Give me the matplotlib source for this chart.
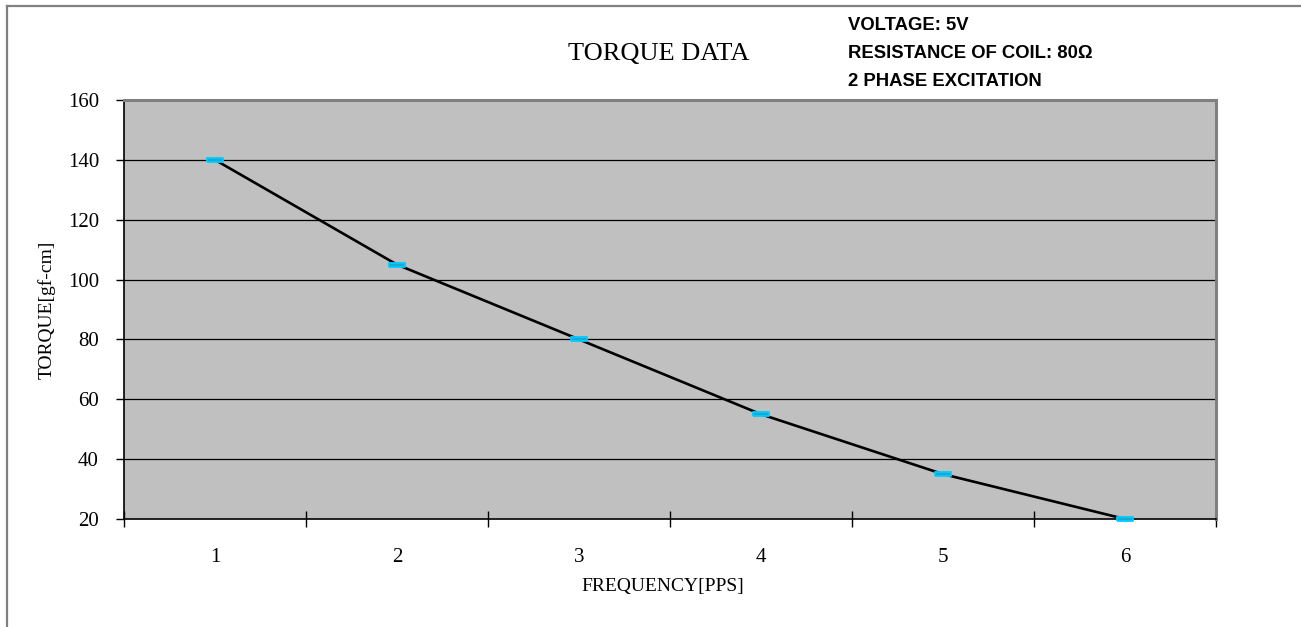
import matplotlib
matplotlib.use("Agg")
import matplotlib.pyplot as plt
from matplotlib.lines import Line2D
import numpy as np

categories = ["1", "2", "3", "4", "5", "6"]
torque = [140, 105, 80, 55, 35, 20]
y_ticks = [20, 40, 60, 80, 100, 120, 140, 160]

title = "TORQUE DATA"
notes = ["VOLTAGE: 5V", "RESISTANCE OF COIL: 80\u03a9", "2 PHASE EXCITATION"]
xlabel = "FREQUENCY[PPS]"
ylabel = "TORQUE[gf-cm]"

W, H = 1301, 627
fig = plt.figure(figsize=(W / 100, H / 100), dpi=100)
fig.patch.set_facecolor("white")

serif = ["Liberation Serif", "DejaVu Serif"]
sans = ["Liberation Sans", "DejaVu Sans"]

# figure frame (left and top edges visible)
fig.add_artist(Line2D([7 / W, 7 / W], [0, 1 - 6 / H], transform=fig.transFigure,
                      color="#808080", lw=1.6))
fig.add_artist(Line2D([7 / W, 1], [1 - 6 / H, 1 - 6 / H], transform=fig.transFigure,
                      color="#808080", lw=1.6))

left, right, bottom, top = 124 / W, 1216 / W, (H - 519) / H, (H - 100) / H
ax = fig.add_axes([left, bottom, right - left, top - bottom])
ax.set_facecolor("#C0C0C0")

x = np.arange(1, len(categories) + 1)
ax.set_xlim(0.5, len(categories) + 0.5)
ax.set_ylim(20, 160)

for yv in y_ticks[1:-1]:
    ax.axhline(yv, color="black", lw=0.9, zorder=1)

rect = [(-3.75, -1.15), (3.75, -1.15), (3.75, 1.15), (-3.75, 1.15), (-3.75, -1.15)]
ax.plot(x, torque, color="black", lw=1.9, zorder=3)
ax.plot(x, torque, linestyle="none", marker=rect, markersize=11.5,
        markerfacecolor="#1AA8D8", markeredgecolor="#00CCFF", markeredgewidth=1.3,
        zorder=4, clip_on=False)

# spines
for s in ["left", "bottom"]:
    ax.spines[s].set_color("black")
    ax.spines[s].set_linewidth(1.2)
for s in ["top", "right"]:
    ax.spines[s].set_color("#808080")
    ax.spines[s].set_linewidth(2.2)

ax.set_yticks(y_ticks)
ax.set_yticklabels([str(v) for v in y_ticks], fontfamily=serif, fontsize=15)
ax.tick_params(axis="y", direction="out", length=6, width=1, color="black", pad=12)

ax.set_xticks(np.arange(0.5, len(categories) + 1, 1.0))
ax.set_xticklabels([])
ax.tick_params(axis="x", which="major", direction="inout", length=12, width=1, color="black")
ax.set_xticks(x, minor=True)
ax.set_xticklabels(categories, minor=True, fontfamily=serif, fontsize=15)
ax.tick_params(axis="x", which="minor", length=0, pad=21)

ax.set_xlabel(xlabel, fontfamily=serif, fontsize=14, labelpad=14)
ax.set_ylabel(ylabel, fontfamily=serif, fontsize=14, labelpad=14)
ax.xaxis.set_label_coords((663 / W - left) / (right - left), -(586 - 519) / (519 - 100))
ax.yaxis.set_label_coords(-(124 - 47) / (1216 - 124), (519 - 310) / (519 - 100))
ax.xaxis.label.set_verticalalignment("center")
ax.yaxis.label.set_verticalalignment("center")

fig.text(659 / W, 1 - 54 / H, title, ha="center", va="center",
         fontfamily=serif, fontsize=19)
for i, t in enumerate(notes):
    fig.text(848 / W, 1 - (25 + 28 * i) / H, t, ha="left", va="center",
             fontfamily=sans, fontweight="bold", fontsize=13.3)

fig.savefig("out.png", dpi=100)
